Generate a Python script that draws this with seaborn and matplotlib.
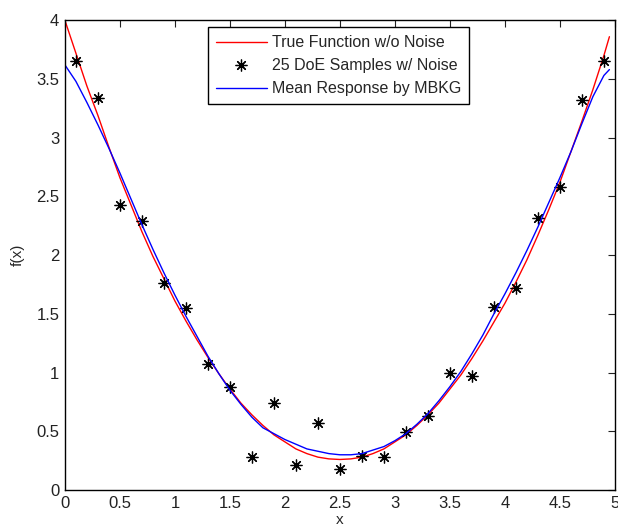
import numpy as np
import pandas as pd
import matplotlib
matplotlib.use("Agg")
import matplotlib.pyplot as plt
import seaborn as sns
from matplotlib.ticker import FuncFormatter

# ---- data ----
sample_x = [0.1, 0.3, 0.5, 0.7, 0.9, 1.1, 1.3, 1.5, 1.7, 1.9, 2.1, 2.3, 2.5,
            2.7, 2.9, 3.1, 3.3, 3.5, 3.7, 3.9, 4.1, 4.3, 4.5, 4.7, 4.9]
sample_y = [3.65, 3.34, 2.43, 2.29, 1.76, 1.55, 1.07, 0.88, 0.28, 0.74, 0.21, 0.57, 0.18,
            0.29, 0.28, 0.49, 0.63, 1.00, 0.97, 1.56, 1.72, 2.32, 2.58, 3.32, 3.65]

curve_x = [0.0, 0.1, 0.2, 0.3, 0.4, 0.5, 0.6, 0.7, 0.8, 0.9,
           1.0, 1.1, 1.2, 1.3, 1.4, 1.5, 1.6, 1.7, 1.8, 1.9,
           2.0, 2.1, 2.2, 2.3, 2.4, 2.5, 2.6, 2.7, 2.8, 2.9,
           3.0, 3.1, 3.2, 3.3, 3.4, 3.5, 3.6, 3.7, 3.8, 3.9,
           4.0, 4.1, 4.2, 4.3, 4.4, 4.5, 4.6, 4.7, 4.8, 4.9, 4.95]
true_y = [4.00, 3.72, 3.44, 3.19, 2.92, 2.66, 2.43, 2.20, 1.99, 1.80,
          1.61, 1.44, 1.28, 1.13, 0.99, 0.86, 0.74, 0.64, 0.55, 0.47,
          0.41, 0.35, 0.31, 0.28, 0.265, 0.26, 0.265, 0.28, 0.31, 0.35,
          0.41, 0.47, 0.55, 0.64, 0.74, 0.86, 0.98, 1.12, 1.27, 1.43,
          1.59, 1.77, 1.96, 2.17, 2.39, 2.62, 2.88, 3.14, 3.41, 3.70, 3.86]
mean_y = [3.62, 3.48, 3.30, 3.11, 2.91, 2.70, 2.48, 2.26, 2.05, 1.85,
          1.66, 1.48, 1.31, 1.14, 0.99, 0.85, 0.73, 0.62, 0.53, 0.48,
          0.43, 0.39, 0.35, 0.33, 0.31, 0.30, 0.30, 0.31, 0.34, 0.37,
          0.42, 0.48, 0.56, 0.65, 0.76, 0.88, 1.01, 1.16, 1.32, 1.50,
          1.67, 1.85, 2.04, 2.24, 2.45, 2.66, 2.88, 3.12, 3.35, 3.53, 3.58]

labels = ["True Function w/o Noise", "25 DoE Samples w/ Noise", "Mean Response by MBKG"]

sns.set_theme(style="white")
plt.rcParams['font.family'] = ['Liberation Sans', 'DejaVu Sans']

fig = plt.figure(figsize=(6.18, 5.29), dpi=100)
ax = fig.add_axes([0.105, 0.0737, 0.890, 0.888])

df_true = pd.DataFrame({"x": curve_x, "y": true_y})
df_mean = pd.DataFrame({"x": curve_x, "y": mean_y})
df_s = pd.DataFrame({"x": sample_x, "y": sample_y})

sns.lineplot(data=df_true, x="x", y="y", ax=ax, color="#ff0000", linewidth=1.0,
             label=labels[0], sort=False)
ax.plot(df_s["x"], df_s["y"], linestyle="none", marker=(8, 2, 0), markersize=8.5,
        markeredgewidth=0.9, color="black", label=labels[1])
sns.lineplot(data=df_mean, x="x", y="y", ax=ax, color="#0000ff", linewidth=1.0,
             label=labels[2], sort=False)

ax.set_xlim(0, 5)
ax.set_ylim(0, 4)
ax.set_xticks(np.arange(0, 5.01, 0.5))
ax.set_yticks(np.arange(0, 4.01, 0.5))
fmt = FuncFormatter(lambda v, p: ("%g" % v))
ax.xaxis.set_major_formatter(fmt)
ax.yaxis.set_major_formatter(fmt)
ax.tick_params(direction="in", length=5, width=0.8, top=True, right=True,
               labelsize=12, colors="#222222", pad=4)
for s in ax.spines.values():
    s.set_color("black")
    s.set_linewidth(1.0)
ax.set_xlabel("x", fontsize=11, labelpad=2)
ax.set_ylabel("f(x)", fontsize=11, labelpad=8)

leg = ax.legend(loc="upper left", bbox_to_anchor=(0.26, 0.985), fontsize=11.5,
                frameon=True, fancybox=False, edgecolor="black", framealpha=1,
                borderpad=0.5, labelspacing=0.5, handlelength=3.2,
                handletextpad=0.3, borderaxespad=0.0)
leg.get_frame().set_linewidth(1.0)

fig.savefig("out.png", dpi=100)
